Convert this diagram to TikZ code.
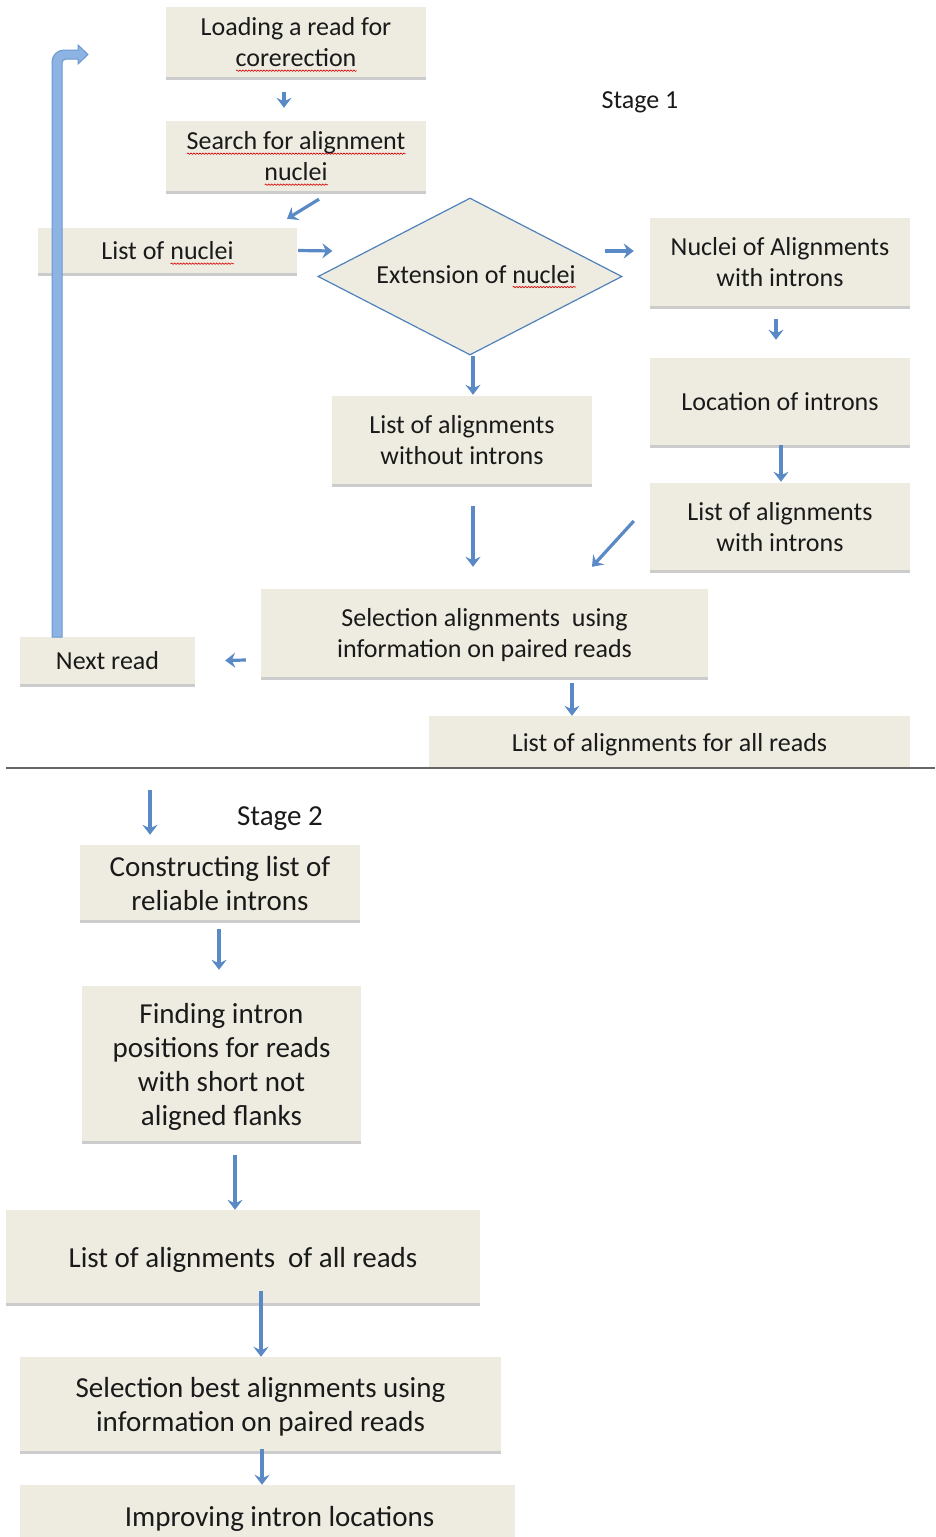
\documentclass[tikz,border=0pt]{standalone}
\usepackage{fontspec}
\setmainfont{Carlito}
\usetikzlibrary{arrows.meta,shapes.geometric,shadows,decorations.pathmorphing}
\definecolor{boxfill}{HTML}{EEECE1}
\definecolor{arrowblue}{HTML}{5A8AC6}
\definecolor{diaedge}{HTML}{4F81BD}
\definecolor{bigfill}{HTML}{8DB3E2}
\definecolor{bigedge}{HTML}{6A98D2}
\definecolor{txt}{HTML}{1A1A1A}
\newlength\spw
\newcommand\spell[1]{\settowidth\spw{#1}\rlap{\raisebox{-5pt}{\tikz\draw[red!85!black, line width=0.6pt, decorate, decoration={snake,amplitude=0.7pt,segment length=3pt}] (0pt,0pt) -- (\spw,0pt);}}#1}
\newcommand\bta[1]{\raisebox{-3pt}[\height][\depth]{\begin{tabular}{@{}c@{}}#1\end{tabular}}}
\newcommand\btb[1]{\raisebox{-4pt}[\height][\depth]{\begin{tabular}{@{}c@{}}#1\end{tabular}}}
\tikzset{
  box/.style={fill=boxfill, align=center, inner sep=0pt, text=txt,
    drop shadow={shadow xshift=0pt, shadow yshift=-2.5pt, fill=black!50, opacity=0.4}},
  plainbox/.style={fill=boxfill, align=center, inner sep=0pt, text=txt},
  sone/.style={font=\fontsize{26}{31}\selectfont},
  stwo/.style={font=\fontsize{29}{34}\selectfont},
  conn/.style={draw=arrowblue, line width=3.2pt, -{Stealth[length=10pt,width=15pt,inset=3.5pt]}},
  bigarrow/.style={fill=bigfill, draw=bigedge, line width=1pt},
  label/.style={text=txt, inner sep=0pt}
}
\begin{document}
\begin{tikzpicture}[x=1pt,y=-1pt]
\useasboundingbox (0,0) rectangle (935,1537);
\fill[white] (0,0) rectangle (935,1537);

% Stage 1 boxes
\node[box,sone,minimum width=260pt,minimum height=70pt] (load) at (296,42) {\bta{Loading a read for\\\spell{corerection}}};
\node[box,sone,minimum width=260pt,minimum height=70pt] (search) at (296,156) {\bta{\spell{Search for alignment}\\\spell{nuclei}}};
\node[box,sone,minimum width=259pt,minimum height=45pt] (nuc) at (167.5,250.5) {\bta{List of \spell{nuclei}}};
\node[diamond,draw=diaedge,line width=1.2pt,fill=boxfill,inner sep=0pt,aspect=1.94,minimum width=304pt,minimum height=157pt,text=txt,sone] (ext) at (470,276.5) {\hspace*{12pt}\raisebox{1pt}{Extension of \spell{nuclei}}};
\node[box,sone,minimum width=260pt,minimum height=88pt] (nal) at (780,262) {\bta{Nuclei of Alignments\\with introns}};
\node[box,sone,minimum width=260pt,minimum height=87pt] (loc) at (780,401.5) {\bta{Location of introns}};
\node[box,sone,minimum width=260pt,minimum height=87pt] (lwi) at (780,526.5) {\bta{List of alignments\\with introns}};
\node[box,sone,minimum width=260pt,minimum height=88pt] (lwo) at (462,440) {\bta{List of alignments\\without introns}};
\node[box,sone,minimum width=447pt,minimum height=88pt] (sel) at (484.5,633) {\bta{Selection alignments\ \ using\\information on paired reads}};
\node[box,sone,minimum width=175pt,minimum height=47pt] (next) at (107.5,660.5) {\bta{Next read}};
\node[plainbox,sone,minimum width=481pt,minimum height=52pt] (lall) at (669.5,742) {\bta{List of alignments for all reads}};
\node[label,sone] (st1) at (640,102) {Stage 1};

% separator
\draw[line width=1.6pt, draw=black!60] (6,768) -- (935,768);

% Stage 2 boxes
\node[label,stwo] (st2) at (280,819) {Stage 2};
\node[box,stwo,minimum width=280pt,minimum height=75pt] (cons) at (220,882.5) {\btb{Constructing list of\\reliable introns}};
\node[box,stwo,minimum width=279pt,minimum height=155pt] (find) at (221.5,1063.5) {\btb{Finding intron\\positions for reads\\with short not\\aligned flanks}};
\node[box,stwo,minimum width=474pt,minimum height=93pt] (lal2) at (243,1256.5) {\btb{List of alignments\ \ of all reads}};
\node[box,stwo,minimum width=481pt,minimum height=94pt] (selb) at (260.5,1404) {\btb{Selection best alignments using\\information on paired reads}};
\node[plainbox,stwo,minimum width=495pt,minimum height=62pt] (imp) at (267.5,1516) {\btb{\hspace*{24pt}Improving intron locations}};

% connectors stage 1
\draw[conn] ([xshift=-12pt,yshift=-15pt]load.south) -- ([xshift=-12pt,yshift=13pt]search.north);
\draw[conn] ([xshift=23pt,yshift=-8pt]search.south) -- ([xshift=119.5pt,yshift=9pt]nuc.north);
\draw[conn] ([xshift=1pt]nuc.east) -- ([xshift=15pt,yshift=25.5pt]ext.west);
\draw[conn] ([xshift=-18pt,yshift=25.5pt]ext.east) -- ([xshift=-16pt,yshift=11pt]nal.west);
\draw[conn] ([xshift=-4pt,yshift=-13pt]nal.south) -- ([xshift=-4pt,yshift=18pt]loc.north);
\draw[conn] ([xshift=3pt]ext.south) -- ([xshift=11pt,yshift=1pt]lwo.north);
\draw[conn] ([xshift=1pt]loc.south) -- ([xshift=1pt,yshift=1pt]lwi.north);
\draw[conn] ([xshift=11pt,yshift=-22pt]lwo.south) -- ([xshift=-11.5pt,yshift=22pt]sel.north);
\draw[conn] ([xshift=-16pt,yshift=5.5pt]lwi.west) -- ([xshift=107.5pt,yshift=22pt]sel.north);
\draw[conn] ([xshift=-15pt,yshift=-27pt]sel.west) -- ([xshift=30pt]next.east);
\draw[conn] ([xshift=87.5pt,yshift=-6pt]sel.south) -- ([xshift=-97.5pt]lall.north);

% big loop-back arrow from Next read to the top
\path[bigarrow] (52,637) -- (52,62) arc[start angle=180,end angle=270,radius=12]
  -- (78,50) -- (78,45) -- (88,54.5) -- (78,64) -- (78,59) -- (66,59)
  arc[start angle=270,end angle=180,radius=4] -- (62,637) -- cycle;

% connectors stage 2
\draw[conn] ([xshift=-70pt,yshift=55pt]cons.north) -- ([xshift=-70pt,yshift=10pt]cons.north);
\draw[conn] ([xshift=-1pt,yshift=-9pt]cons.south) -- ([xshift=-2.5pt,yshift=16pt]find.north);
\draw[conn] ([xshift=13.5pt,yshift=-14pt]find.south) -- ([xshift=-8pt]lal2.north);
\draw[conn] ([xshift=18pt,yshift=12pt]lal2.south) -- ([xshift=0.5pt]selb.north);
\draw[conn] ([xshift=1.5pt,yshift=2pt]selb.south) -- ([xshift=-5.5pt]imp.north);
\end{tikzpicture}
\end{document}
